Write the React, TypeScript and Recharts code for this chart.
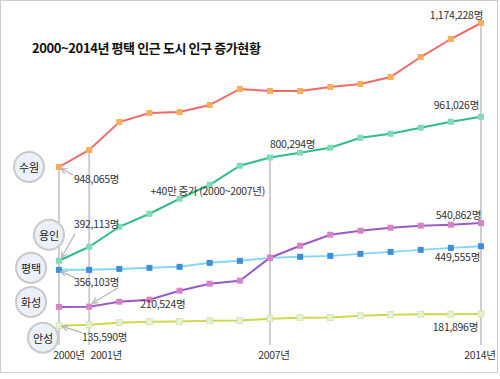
import React from "react";
import { LineChart, Line, XAxis, YAxis, ReferenceLine, ReferenceDot } from "recharts";

// 연도 / 도시별 인구 (명)
const years = [2000, 2001, 2002, 2003, 2004, 2005, 2006, 2007, 2008, 2009, 2010, 2011, 2012, 2013, 2014];
const suwon = [948065, 974800, 1018700, 1032900, 1034400, 1045400, 1070600, 1067400, 1067400, 1073700, 1078400, 1089400, 1120800, 1149100, 1174228];
const yongin = [392113, 447400, 526400, 577800, 637100, 692400, 767500, 800294, 818800, 838600, 878100, 893900, 917600, 941300, 961026];
const pyeongtaek = [356103, 356103, 360000, 364000, 368000, 383800, 391700, 403500, 407500, 411400, 419300, 427200, 435100, 443000, 449555];
const hwaseong = [209800, 210524, 230300, 238200, 273700, 301400, 313300, 404100, 451500, 495000, 510800, 522700, 530600, 534500, 540862];
const anseong = [135590, 139500, 147400, 151400, 152500, 155300, 156000, 163200, 167200, 168000, 175100, 179100, 180500, 181200, 181896];
const tickYears = [2000, 2001, 2007, 2014];
const tickNames = ["2000년", "2001년", "2007년", "2014년"];

const data = years.map((year, i) => ({
  year,
  suwon: suwon[i],
  yongin: yongin[i],
  pyeongtaek: pyeongtaek[i],
  hwaseong: hwaseong[i],
  anseong: anseong[i],
}));

// 수원만 별도 축 (원본 그림 배치에 맞춤)
const MAIN_DOMAIN: [number, number] = [0, 1343343];
const SUWON_DOMAIN: [number, number] = [644944, 1178940];
const floorOf = (d: [number, number]) => d[0] + (d[1] - d[0]) * 0.044;

const FONT = "'Noto Sans CJK KR', 'Noto Sans', sans-serif";
const GRID = "#cfcfcf";
const fmt = (v: number) => v.toLocaleString("en-US") + "명";

const squareDot = (fill: string, stroke?: string) => (p: any) => (
  <rect key={`d-${p.index}`} x={p.cx - 3} y={p.cy - 3} width={6} height={6} fill={fill} stroke={stroke || "none"} strokeWidth={stroke ? 0.8 : 0} />
);

// 값 라벨 (+ 화살표)
const note = (text: string, tx: number, ty: number, anchor: string, arrow?: number[]) => (p: any) => (
  <g>
    {arrow && (
      <line
        x1={p.cx + arrow[0]} y1={p.cy + arrow[1]} x2={p.cx + arrow[2]} y2={p.cy + arrow[3]}
        stroke="#b5b5b5" strokeWidth={1.3} markerEnd="url(#arrowHead)"
      />
    )}
    <text x={p.cx + tx} y={p.cy + ty} textAnchor={anchor as any} dominantBaseline="central"
      fontSize={10.5} fill="#333" fontFamily={FONT} letterSpacing={-0.3}>
      {text}
    </text>
  </g>
);

// 도시 이름 원
const bubble = (name: string, dx: number, dy: number) => (p: any) => (
  <g>
    <circle cx={p.cx + dx} cy={p.cy + dy} r={15} fill="#eaf1fa" stroke="#c9c9c9" strokeWidth={2} />
    <text x={p.cx + dx} y={p.cy + dy} textAnchor="middle" dominantBaseline="central"
      fontSize={11} fill="#222" fontFamily={FONT}>
      {name}
    </text>
  </g>
);

const XTick = ({ x, y, payload }: any) => {
  const i = tickYears.indexOf(payload.value);
  const shift = [10, 17, 4, -1][i] || 0;
  return (
    <text x={x + shift} y={354} textAnchor="middle" dominantBaseline="central"
      fontSize={10.5} fill="#333" fontFamily={FONT} letterSpacing={-0.3}>
      {tickNames[i]}
    </text>
  );
};

export default function App() {
  const mainFloor = floorOf(MAIN_DOMAIN);
  const suwonFloor = floorOf(SUWON_DOMAIN);
  return (
    <div style={{ position: "absolute", left: 0, top: 0, width: 500, height: 379, background: "#fff", fontFamily: FONT }}>
      <div style={{ position: "absolute", left: 0, top: 0, width: 496, height: 371, border: "1.5px solid #cdcdcd" }} />
      <div style={{ position: "absolute", left: 32, top: 38, fontSize: 13, fontWeight: 700, color: "#111", letterSpacing: -0.4, whiteSpace: "nowrap" }}>
        2000~2014년 평택 인근 도시 인구 증가현황
      </div>
      <LineChart width={500} height={379} data={data} margin={{ top: 20, right: 19, bottom: 0, left: 59 }} style={{ position: "absolute", left: 0, top: 0 }}>
        <defs>
          <marker id="arrowHead" markerWidth={7} markerHeight={7} refX={5} refY={3} orient="auto" markerUnits="userSpaceOnUse">
            <path d="M0,0 L6,3 L0,6" fill="none" stroke="#b5b5b5" strokeWidth={1.2} />
          </marker>
        </defs>
        <XAxis dataKey="year" type="number" domain={[2000, 2014]} ticks={tickYears} axisLine={false} tickLine={false} height={19} tick={<XTick />} interval={0} />
        <YAxis yAxisId="main" type="number" domain={MAIN_DOMAIN} allowDataOverflow hide />
        <YAxis yAxisId="suwon" type="number" domain={SUWON_DOMAIN} allowDataOverflow hide />

        <ReferenceLine yAxisId="suwon" segment={[{ x: 2000, y: suwon[0] }, { x: 2000, y: suwonFloor }]} stroke={GRID} strokeWidth={2} />
        <ReferenceLine yAxisId="suwon" segment={[{ x: 2001, y: suwon[1] }, { x: 2001, y: suwonFloor }]} stroke={GRID} strokeWidth={2} />
        <ReferenceLine yAxisId="main" segment={[{ x: 2007, y: yongin[7] }, { x: 2007, y: mainFloor }]} stroke={GRID} strokeWidth={2} />
        <ReferenceLine yAxisId="suwon" segment={[{ x: 2014, y: suwon[14] }, { x: 2014, y: suwonFloor }]} stroke={GRID} strokeWidth={2} />

        <Line yAxisId="main" dataKey="anseong" stroke="#cdd84a" strokeWidth={2} dot={squareDot("#e4f2cf", "#cfe3b5")} isAnimationActive={false} />
        <Line yAxisId="main" dataKey="pyeongtaek" stroke="#86d6f2" strokeWidth={2} dot={squareDot("#3d8fd8")} isAnimationActive={false} />
        <Line yAxisId="main" dataKey="hwaseong" stroke="#9a5bc4" strokeWidth={2} dot={squareDot("#d982c8")} isAnimationActive={false} />
        <Line yAxisId="main" dataKey="yongin" stroke="#2fbd8c" strokeWidth={2} dot={squareDot("#7fdcb4")} isAnimationActive={false} />
        <Line yAxisId="suwon" dataKey="suwon" stroke="#f06a6a" strokeWidth={2} dot={squareDot("#f8ae5a")} isAnimationActive={false} />

        <ReferenceDot yAxisId="suwon" x={2014} y={suwon[14]} shape={note(fmt(suwon[14]), 2, -9, "end")} />
        <ReferenceDot yAxisId="suwon" x={2000} y={suwon[0]} shape={note(fmt(suwon[0]), 15, 11, "start", [14, 8, 3, 2])} />
        <ReferenceDot yAxisId="main" x={2014} y={yongin[14]} shape={note(fmt(yongin[14]), -2, -12, "end")} />
        <ReferenceDot yAxisId="main" x={2007} y={yongin[7]} shape={note(fmt(yongin[7]), 0, -14, "start")} />
        <ReferenceDot yAxisId="main" x={2000} y={yongin[0]} shape={note(fmt(yongin[0]), 15, -37, "start", [16, -27, 3, -4])} />
        <ReferenceDot yAxisId="main" x={2004} y={yongin[4]} shape={note("+40만 증가 (2000~2007년)", -29, -8, "start")} />
        <ReferenceDot yAxisId="main" x={2014} y={hwaseong[14]} shape={note(fmt(hwaseong[14]), 0, -9, "end")} />
        <ReferenceDot yAxisId="main" x={2001} y={hwaseong[1]} shape={note(fmt(hwaseong[1]), 51, -3, "start", [29, -19, 4, -4])} />
        <ReferenceDot yAxisId="main" x={2014} y={pyeongtaek[14]} shape={note(fmt(pyeongtaek[14]), -1, 10, "end")} />
        <ReferenceDot yAxisId="main" x={2000} y={pyeongtaek[0]} shape={note(fmt(pyeongtaek[0]), 15, 12, "start", [16, 8, 3, 2])} />
        <ReferenceDot yAxisId="main" x={2014} y={anseong[14]} shape={note(fmt(anseong[14]), -3, 13, "end")} />
        <ReferenceDot yAxisId="main" x={2000} y={anseong[0]} shape={note(fmt(anseong[0]), 23, 11, "start", [23, 7, 4, 1])} />

        <ReferenceDot yAxisId="suwon" x={2000} y={suwon[0]} shape={bubble("수원", -30, 0)} />
        <ReferenceDot yAxisId="main" x={2000} y={yongin[0]} shape={bubble("용인", -10, -26)} />
        <ReferenceDot yAxisId="main" x={2000} y={pyeongtaek[0]} shape={bubble("평택", -28, -2)} />
        <ReferenceDot yAxisId="main" x={2000} y={hwaseong[0]} shape={bubble("화성", -28, -5)} />
        <ReferenceDot yAxisId="main" x={2000} y={anseong[0]} shape={bubble("안성", -16, 12)} />
      </LineChart>
    </div>
  );
}
